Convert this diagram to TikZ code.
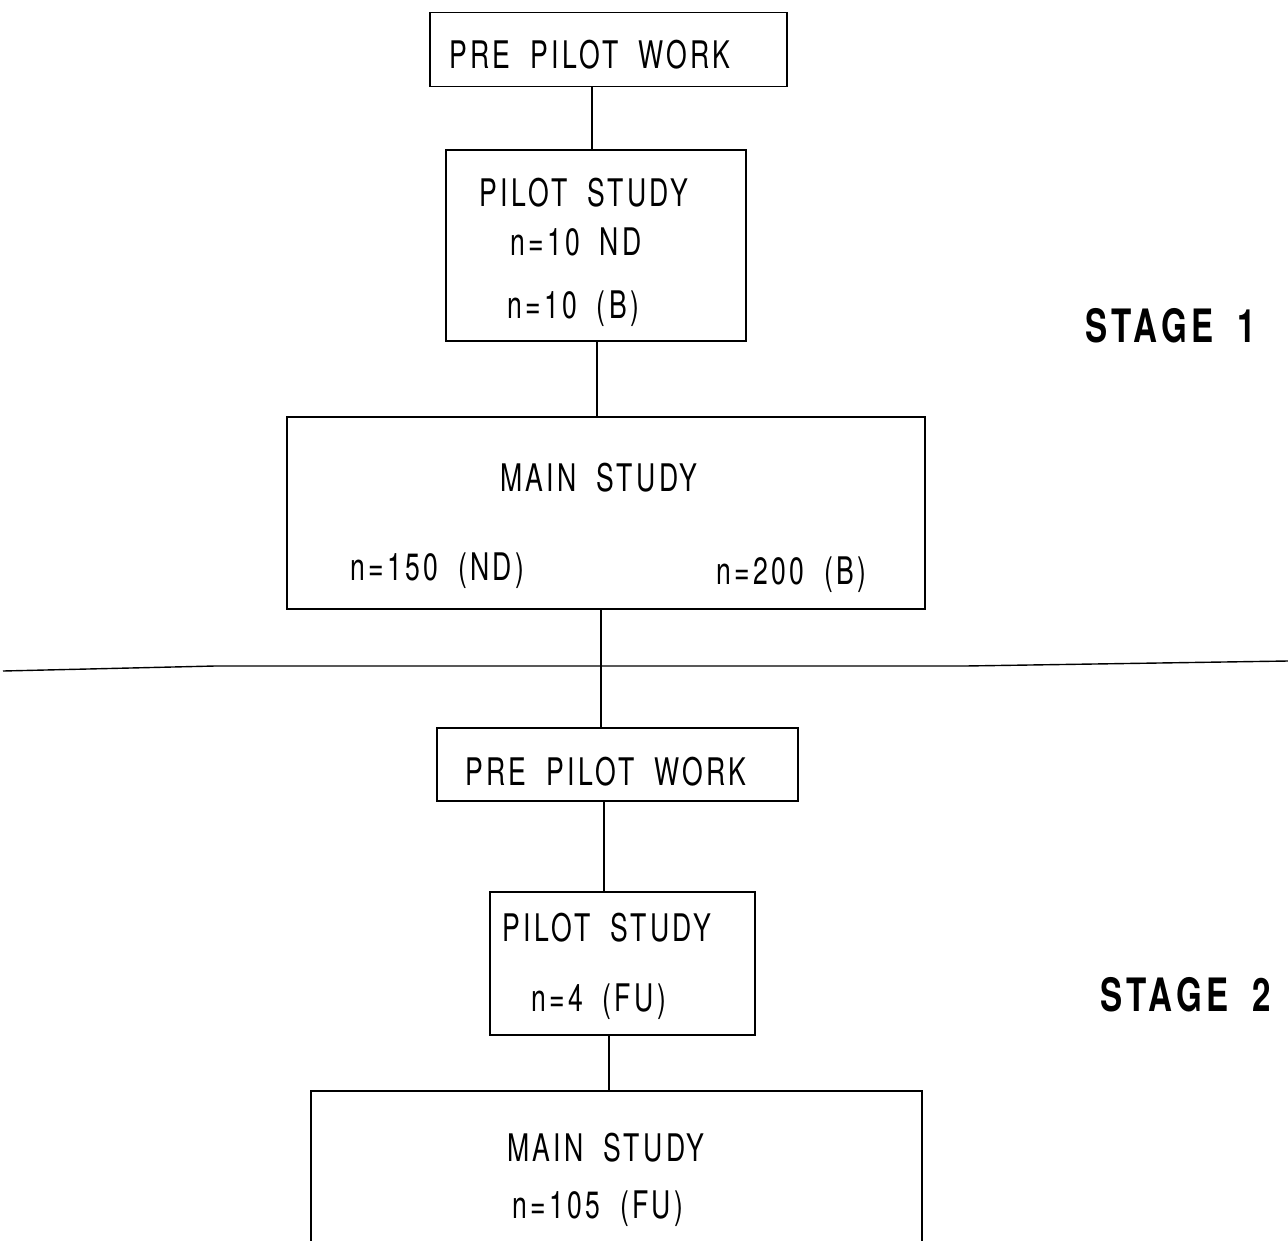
\documentclass[tikz,border=0pt]{standalone}
\usepackage{fontspec}
\setmainfont{TeX Gyre Heros}[FakeStretch=0.7, LetterSpace=9, WordSpace=1.8]
\newfontfamily\stagefont{TeX Gyre Heros Bold}[FakeStretch=0.72, LetterSpace=10, WordSpace=1.7]
\begin{document}
\begin{tikzpicture}[x=1pt,y=-1pt,
  box/.style={draw, line width=1.1pt, inner sep=0pt, rectangle},
  txt/.style={inner sep=0pt, anchor=base west, font=\fontsize{38}{44}\selectfont},
  stage/.style={inner sep=0pt, anchor=base west, font=\stagefont\fontsize{46}{52}\selectfont},
  link/.style={line width=1.1pt}]
\useasboundingbox (0,0) rectangle (1288,1240);
% boxes
\node[box, minimum width=357pt, minimum height=74pt] (ppw1) at (608.5,49.5) {};
\node[box, minimum width=300pt, minimum height=191pt] (ps1) at (596,245.5) {};
\node[box, minimum width=638pt, minimum height=192pt] (ms1) at (606,513) {};
\node[box, minimum width=361pt, minimum height=73pt] (ppw2) at (617.5,764.5) {};
\node[box, minimum width=265pt, minimum height=143pt] (ps2) at (622.5,963.5) {};
\node[box, minimum width=611pt, minimum height=170pt] (ms2) at (616.5,1176) {};
% texts
\node[txt] (t1) at (449,68) {PRE PILOT WORK};
\node[txt] (t2) at (479,206) {PILOT STUDY};
\node[txt] (t3) at (510,255) {n=10 ND};
\node[txt] (t4) at (507,318) {n=10 (B)};
\node[txt] (t5) at (500,491) {MAIN STUDY};
\node[txt] (t6) at (350,580) {n=150 (ND)};
\node[txt] (t7) at (716,584) {n=200 (B)};
\node[txt] (t8) at (465,785) {PRE PILOT WORK};
\node[txt] (t9) at (502,941) {PILOT STUDY};
\node[txt] (t10) at (531,1011) {n=4 (FU)};
\node[txt] (t11) at (507,1161) {MAIN STUDY};
\node[txt] (t12) at (512,1218) {n=105 (FU)};
\node[stage] (s1) at (1085,342) {STAGE 1};
\node[stage] (s2) at (1100,1011) {STAGE 2};
% connectors
\draw[link] (ppw1.south -| 592,0) -- (ps1.north -| 592,0);
\draw[link] (ps1.south -| 597,0) -- (ms1.north -| 597,0);
\draw[link] (ms1.south -| 601,0) -- (ppw2.north -| 601,0);
\draw[link] (ppw2.south -| 604,0) -- (ps2.north -| 604,0);
\draw[link] (ps2.south -| 609,0) -- (ms2.north -| 609,0);
% divider
\coordinate (dl) at (3,671);
\coordinate (dr) at (1288,661);
\draw[line width=1.4pt] (dl) -- (215,666) -- (965,666) -- (dr);
\end{tikzpicture}
\end{document}
